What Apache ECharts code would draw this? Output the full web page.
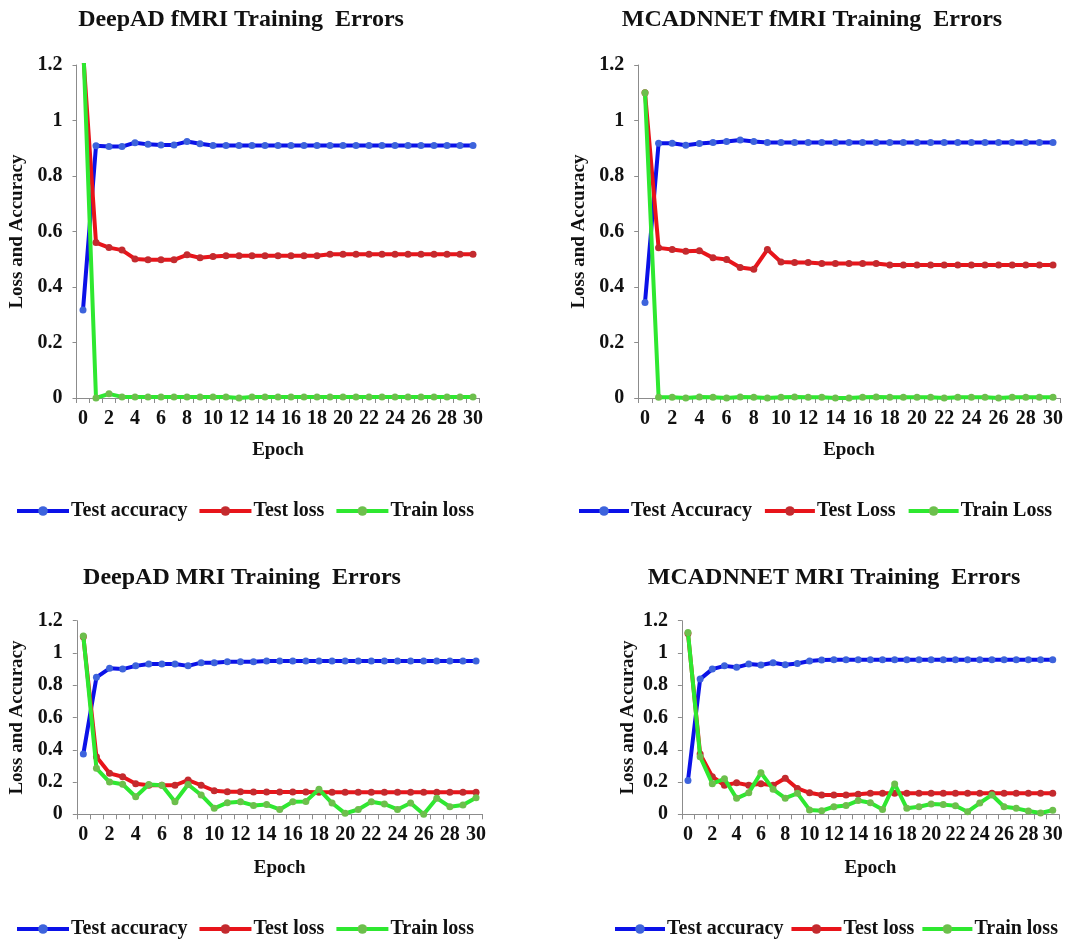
<!DOCTYPE html>
<html>
<head>
<meta charset="utf-8">
<script src="https://cdn.jsdelivr.net/npm/echarts@6/dist/echarts.min.js"></script>
<style>
html,body{margin:0;padding:0;background:#fff;}
#c{width:1068px;height:940px;}
</style>
</head>
<body>
<div id="c"></div>
<script>
// ---- data ----
const epochs = ['0','1','2','3','4','5','6','7','8','9','10','11','12','13','14','15','16','17','18','19','20','21','22','23','24','25','26','27','28','29','30'];
const yTicks = [0, 0.2, 0.4, 0.6, 0.8, 1, 1.2];

const titles = ['DeepAD fMRI Training  Errors', 'MCADNNET fMRI Training  Errors', 'DeepAD MRI Training  Errors', 'MCADNNET MRI Training  Errors'];
const namesLower = ['Test accuracy', 'Test loss', 'Train loss'];
const namesUpper = ['Test Accuracy', 'Test Loss', 'Train Loss'];

// DeepAD fMRI
const deepadFmriAcc = [0.317,0.909,0.906,0.906,0.92,0.914,0.912,0.912,0.924,0.916,0.91,0.91,0.91,0.91,0.91,0.91,0.91,0.91,0.91,0.91,0.91,0.91,0.91,0.91,0.91,0.91,0.91,0.91,0.91,0.91,0.91];
const deepadFmriTestLoss = [1.25,0.56,0.542,0.533,0.501,0.498,0.498,0.498,0.516,0.505,0.51,0.513,0.513,0.513,0.513,0.513,0.513,0.513,0.513,0.518,0.518,0.518,0.518,0.518,0.518,0.518,0.518,0.518,0.518,0.518,0.518];
const deepadFmriTrainLoss = [1.3,0.0,0.015,0.004,0.004,0.004,0.004,0.004,0.004,0.004,0.004,0.004,0.0,0.004,0.004,0.004,0.004,0.004,0.004,0.004,0.004,0.004,0.004,0.004,0.004,0.004,0.004,0.004,0.004,0.004,0.004];

// MCADNNET fMRI
const mcadFmriAcc = [0.344,0.918,0.918,0.911,0.917,0.921,0.924,0.93,0.924,0.921,0.921,0.921,0.921,0.921,0.921,0.921,0.921,0.921,0.921,0.921,0.921,0.921,0.921,0.921,0.921,0.921,0.921,0.921,0.921,0.921,0.921];
const mcadFmriTestLoss = [1.1,0.541,0.535,0.529,0.531,0.505,0.499,0.47,0.464,0.535,0.49,0.488,0.488,0.485,0.485,0.485,0.485,0.485,0.479,0.479,0.479,0.479,0.479,0.479,0.479,0.479,0.479,0.479,0.479,0.479,0.479];
const mcadFmriTrainLoss = [1.1,0.003,0.003,0.0,0.004,0.003,0.0,0.004,0.003,0.0,0.003,0.004,0.003,0.003,0.0,0.0,0.003,0.004,0.003,0.003,0.003,0.003,0.0,0.003,0.003,0.003,0.0,0.003,0.003,0.003,0.003];

// DeepAD MRI
const deepadMriAcc = [0.374,0.849,0.905,0.9,0.92,0.932,0.932,0.932,0.92,0.94,0.94,0.945,0.945,0.945,0.95,0.95,0.95,0.95,0.95,0.95,0.95,0.95,0.95,0.95,0.95,0.95,0.95,0.95,0.95,0.95,0.95];
const deepadMriTestLoss = [1.1,0.357,0.254,0.233,0.19,0.18,0.18,0.18,0.212,0.18,0.146,0.14,0.14,0.138,0.138,0.138,0.138,0.138,0.136,0.136,0.136,0.136,0.136,0.136,0.136,0.136,0.136,0.136,0.136,0.136,0.136];
const deepadMriTrainLoss = [1.105,0.285,0.2,0.186,0.109,0.185,0.18,0.078,0.185,0.12,0.037,0.072,0.078,0.055,0.06,0.03,0.078,0.08,0.155,0.07,0.006,0.03,0.078,0.064,0.03,0.07,0.0,0.1,0.047,0.057,0.103];

// MCADNNET MRI
const mcadMriAcc = [0.21,0.838,0.9,0.92,0.911,0.931,0.925,0.939,0.927,0.935,0.95,0.956,0.958,0.958,0.958,0.958,0.958,0.958,0.958,0.958,0.958,0.958,0.958,0.958,0.958,0.958,0.958,0.958,0.958,0.958,0.958];
const mcadMriTestLoss = [1.12,0.374,0.233,0.18,0.195,0.18,0.19,0.18,0.223,0.16,0.133,0.12,0.12,0.12,0.125,0.13,0.13,0.13,0.13,0.13,0.13,0.13,0.13,0.13,0.13,0.13,0.13,0.13,0.13,0.13,0.13];
const mcadMriTrainLoss = [1.127,0.357,0.19,0.22,0.099,0.133,0.258,0.155,0.1,0.13,0.027,0.022,0.047,0.054,0.085,0.072,0.03,0.188,0.037,0.047,0.064,0.06,0.053,0.016,0.07,0.12,0.047,0.037,0.02,0.008,0.025];

// ---- layout ----
const FONT = 'Liberation Serif';
const panels = [
  {grid:{left:76.5, top:65, width:403, height:333}, title:{x:241, y:8}, legend:{x:15, y:501, w:52, gap:10}, names:namesLower, data:[deepadFmriAcc, deepadFmriTestLoss, deepadFmriTrainLoss], yGap:50, xGap:43},
  {grid:{left:638.2, top:65, width:421.6, height:333}, title:{x:812, y:8}, legend:{x:577, y:501, w:50, gap:11}, names:namesUpper, data:[mcadFmriAcc, mcadFmriTestLoss, mcadFmriTrainLoss], yGap:50, xGap:43},
  {grid:{left:76.8, top:620.7, width:405.8, height:193.6}, title:{x:242, y:566}, legend:{x:15, y:919, w:52, gap:10}, names:namesLower, data:[deepadMriAcc, deepadMriTestLoss, deepadMriTrainLoss], yGap:50, xGap:44},
  {grid:{left:681.9, top:620.7, width:376.9, height:193.6}, title:{x:834, y:566}, legend:{x:613, y:919, w:50, gap:6}, names:namesLower, data:[mcadMriAcc, mcadMriTestLoss, mcadMriTrainLoss], yGap:44, xGap:44}
];

const lineColors = ['#0b12e8', '#e8141a', '#2ee830'];
const markColors = ['#3d63dc', '#c42a2e', '#6cbf4c'];

const option = {
  animation: false,
  backgroundColor: '#ffffff',
  title: [], legend: [], grid: [], xAxis: [], yAxis: [], series: []
};

panels.forEach((p, i) => {
  option.grid.push({left:p.grid.left, top:p.grid.top, width:p.grid.width, height:p.grid.height, containLabel:false});
  option.title.push({
    text: titles[i], left: p.title.x, top: p.title.y, textAlign: 'center', padding: 0,
    textStyle: {fontFamily: FONT, fontWeight: 'bold', fontSize: 24, color: '#111'}
  });
  option.legend.push({
    data: p.names, left: p.legend.x, top: p.legend.y, padding: 0, width: 1068 - p.legend.x,
    itemWidth: p.legend.w, itemHeight: 12, itemGap: p.legend.gap,
    lineStyle: {width: 4},
    textStyle: {fontFamily: FONT, fontWeight: 'bold', fontSize: 20, color: '#111', padding:[0,0,0,-3]},
    selectedMode: false
  });
  option.xAxis.push({
    type: 'category', gridIndex: i, data: epochs, boundaryGap: true,
    name: 'Epoch', nameLocation: 'middle', nameGap: p.xGap,
    nameTextStyle: {fontFamily: FONT, fontWeight: 'bold', fontSize: 19, color: '#111'},
    axisLine: {lineStyle: {color: '#8c8c8c', width: 1}},
    axisTick: {show: true, interval: 0, length: 5, lineStyle: {color: '#8c8c8c'}},
    axisLabel: {interval: 1, margin: 11, fontFamily: FONT, fontWeight: 'bold', fontSize: 20, color: '#111'},
    splitLine: {show: false}
  });
  option.yAxis.push({
    type: 'value', gridIndex: i, min: 0, max: 1.2, interval: 0.2,
    name: 'Loss and Accuracy', nameLocation: 'middle', nameGap: p.yGap,
    nameTextStyle: {fontFamily: FONT, fontWeight: 'bold', fontSize: 19, color: '#111'},
    axisLine: {show: true, lineStyle: {color: '#8c8c8c', width: 1}},
    axisTick: {show: true, length: 4, lineStyle: {color: '#8c8c8c'}},
    axisLabel: {margin: 14, fontFamily: FONT, fontWeight: 'bold', fontSize: 20, color: '#111',
      formatter: v => String(+v.toFixed(1))},
    splitLine: {show: false}
  });
  p.data.forEach((arr, k) => {
    option.series.push({
      name: p.names[k], type: 'line', xAxisIndex: i, yAxisIndex: i, data: arr,
      clip: true, symbol: 'circle', symbolSize: 7, showSymbol: true,
      lineStyle: {color: lineColors[k], width: 4},
      itemStyle: {color: markColors[k], borderColor: markColors[k], borderWidth: 0},
      z: 2 + k
    });
  });
});

const chart = echarts.init(document.getElementById('c'), null, {renderer: 'canvas'});
chart.setOption(option);
</script>
</body>
</html>
